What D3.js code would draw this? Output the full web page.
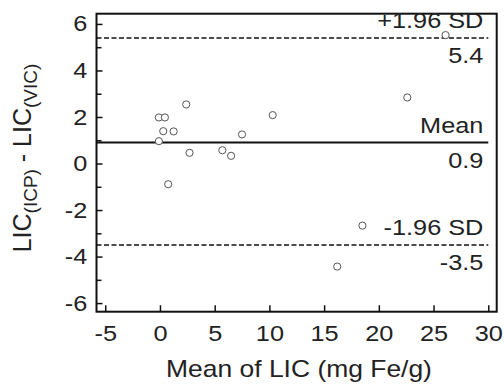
<!DOCTYPE html>
<html>
<head>
<meta charset="utf-8">
<script src="https://cdn.jsdelivr.net/npm/d3@7"></script>
<style>
  body { margin: 0; background: #fff; }
  svg text { font-family: "Liberation Sans", Arial, sans-serif; fill: #222; }
</style>
</head>
<body>
<svg id="chart" width="504" height="389"></svg>
<script>
// mean of LIC (x) and difference ICP - VIC (y)
const meanLIC = [2.4, -0.1, 0.45, 0.3, 1.25, -0.1, 2.7, 5.7, 6.5, 7.5, 10.3, 0.75, 26.1, 22.6, 18.5, 16.2];
const diffLIC = [2.54, 1.98, 1.98, 1.39, 1.38, 0.96, 0.46, 0.57, 0.33, 1.25, 2.08, -0.89, 5.52, 2.84, -2.67, -4.43];
const xTicks = [-5, 0, 5, 10, 15, 20, 25, 30];
const yTicks = [-6, -4, -2, 0, 2, 4, 6];
const yMinor = [-5, -3, -1, 1, 3, 5];
const refLines = [
  { value: 5.4, label: "+1.96 SD", text: "5.4", dashed: true },
  { value: 0.9, label: "Mean", text: "0.9", dashed: false },
  { value: -3.5, label: "-1.96 SD", text: "-3.5", dashed: true }
];

const stretchX = 1.15; // the glyphs in the original are a bit wide
const margin = { top: 13.7, right: 7.3, bottom: 77.3, left: 96.5 };
const svg = d3.select("#chart");
const width = +svg.attr("width") - margin.left - margin.right;
const height = +svg.attr("height") - margin.top - margin.bottom;
const g = svg.append("g").attr("transform", "translate(" + margin.left + "," + margin.top + ")");

const x = d3.scaleLinear().domain([-5.8, 30.77]).range([0, width]);
const y = d3.scaleLinear().domain([-6.37, 6.44]).range([height, 0]);

// places a text at (px,py) and widens it
function wide(sel, px, py) {
  return sel.attr("transform", "translate(" + px + "," + py + ") scale(" + stretchX + ",1)");
}

// axes, ticks drawn inward
const xAxis = g.append("g")
  .attr("transform", "translate(0," + height + ")")
  .call(d3.axisBottom(x).tickValues(xTicks).tickSizeInner(-6.5).tickSizeOuter(0).tickPadding(14).tickFormat(d => String(d)));
const yAxis = g.append("g")
  .call(d3.axisLeft(y).tickValues(yTicks).tickSizeInner(-6).tickSizeOuter(0).tickPadding(8).tickFormat(d => String(d)));
g.append("g")
  .call(d3.axisLeft(y).tickValues(yMinor).tickSizeInner(-5).tickSizeOuter(0).tickFormat(""))
  .select(".domain").remove();

[xAxis, yAxis].forEach(a => {
  a.select(".domain").remove();
  a.selectAll(".tick text").attr("font-size", 22).attr("fill", "#222")
    .attr("transform", "scale(" + stretchX + ",1)")
    .style("font-family", "Liberation Sans, Arial, sans-serif");
});
g.selectAll(".tick line").attr("stroke", "#111").attr("stroke-width", 1.5);

// frame
g.append("rect")
  .attr("width", width).attr("height", height)
  .attr("fill", "none").attr("stroke", "#111").attr("stroke-width", 2);

// reference lines
const ref = g.selectAll(".ref").data(refLines).enter().append("g").attr("class", "ref");
ref.append("line")
  .attr("x1", x(-5.8)).attr("x2", x(30))
  .attr("y1", d => y(d.value)).attr("y2", d => y(d.value))
  .attr("stroke", "#111")
  .attr("stroke-width", d => d.dashed ? 1.5 : 2)
  .attr("stroke-dasharray", d => d.dashed ? "5,2.5" : null);
ref.append("text")
  .attr("text-anchor", "end").attr("font-size", 22)
  .each(function (d) { wide(d3.select(this), x(29.55), y(d.value) - 9.5); })
  .text(d => d.label);
ref.append("text")
  .attr("text-anchor", "end").attr("font-size", 22)
  .each(function (d) { wide(d3.select(this), x(29.55), y(d.value) + 25.5); })
  .text(d => d.text);

// points
g.selectAll(".pt")
  .data(meanLIC.map((m, i) => ({ m, d: diffLIC[i] })))
  .enter().append("circle")
  .attr("class", "pt")
  .attr("cx", p => x(p.m)).attr("cy", p => y(p.d))
  .attr("r", 3.6)
  .attr("fill", "#fff").attr("stroke", "#555").attr("stroke-width", 1);

// axis titles
wide(svg.append("text"), 299, 377)
  .attr("text-anchor", "middle").attr("font-size", 23)
  .text("Mean of LIC (mg Fe/g)");

const yt = svg.append("text")
  .attr("transform", "translate(31,158) rotate(-90)")
  .attr("text-anchor", "middle").attr("font-size", 25);
yt.append("tspan").text("LIC");
yt.append("tspan").attr("font-size", 19).attr("dy", 6).text("(ICP)");
yt.append("tspan").attr("dy", -6).text(" - LIC");
yt.append("tspan").attr("font-size", 19).attr("dy", 6).text("(VIC)");
</script>
</body>
</html>
